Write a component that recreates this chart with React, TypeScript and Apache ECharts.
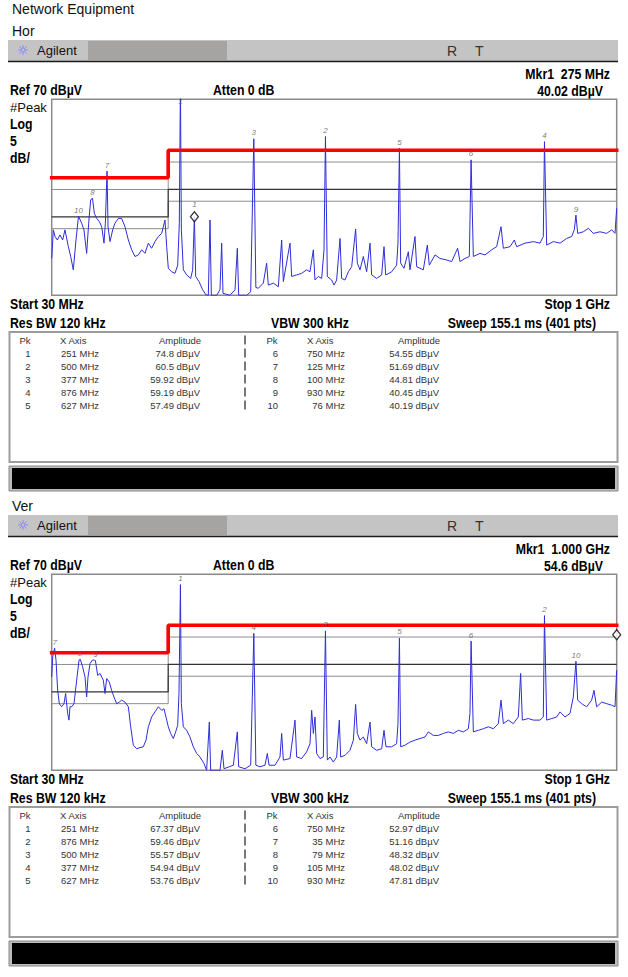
import React, { useEffect, useRef } from "react";
import * as echarts from "echarts";

// ---------- data ----------
const startMHz = 30;
const stopMHz = 1000;
const refLevel = 70;
const dbPerDiv = 5;
const divisions = 10;

// limit line (red) and display lines derived from it
const limitFreqs = [30, 230, 230, 1000];
const limitLevels = [50, 50, 57, 57];
const blackOffset = -10;
const grayOffsets = [-3, -13];

// Horizontal polarisation trace (MHz / dBuV)
const horFreq = [30, 32.8, 35.7, 39.7, 44.2, 48.8, 52.8, 58.6, 62.6, 67.1, 71.7, 76, 81.4, 85.4, 90, 93.5, 96.9, 100, 103.2, 107.2, 111.8, 115.8, 119.8, 122.1, 125, 126.7, 130.1, 134.7, 138.7, 144.4, 150.1, 155.8, 161.6, 167.3, 173, 178.7, 184.5, 190.2, 195.9, 201.6, 207.3, 213.1, 218.8, 224.5, 227.4, 230.2, 235.9, 241.7, 246.3, 249.1, 251, 252.6, 256, 261.7, 268.6, 272, 275, 277.2, 282.9, 289.2, 294.9, 298.9, 301.8, 304.1, 313.2, 318.9, 321.8, 324.1, 336.1, 344.7, 348.7, 351, 364.7, 371.6, 377, 380.5, 384.8, 393.3, 399, 401.9, 410.5, 419.1, 424.8, 427.7, 439.1, 442, 450.6, 459.1, 467.7, 473.4, 479.2, 482, 487.7, 493.5, 497.5, 500, 503.2, 510.6, 514.7, 519.2, 525, 527.8, 533.5, 539.3, 545, 551.8, 554.7, 559.3, 565, 570.7, 576.5, 579.3, 587.9, 596.5, 600.5, 603.4, 613.7, 622.2, 624.5, 627, 629.1, 634.8, 642.3, 645.1, 653.7, 656.6, 668, 674.9, 678.3, 688.1, 696.6, 708.1, 716.7, 726.9, 731, 739.6, 747, 750, 753.9, 765.3, 773.9, 785.3, 793.9, 801.4, 805.4, 816.8, 824.2, 828.3, 842.6, 856.9, 868.3, 874, 876, 879.8, 891.2, 902.7, 914.1, 922.7, 927.2, 930, 933, 942.7, 951.3, 959.9, 971.3, 982.8, 991.4, 997.1, 1000];
const horAmp = [29.4, 36.7, 35.0, 34.1, 35.4, 34.1, 36.7, 32.4, 29.9, 26.5, 34.1, 40.19, 38.4, 36.7, 30.7, 38.4, 44.3, 44.81, 40.9, 39.6, 38.8, 37.5, 33.3, 38.4, 51.69, 37.5, 33.7, 36.7, 38.4, 39.6, 39.6, 37.5, 34.1, 31.6, 29.9, 30.3, 31.6, 30.7, 33.3, 32.0, 33.7, 35.0, 35.8, 39.2, 32.4, 26.9, 26.0, 25.6, 27.7, 38.4, 74.8, 36.7, 26.5, 25.2, 24.3, 26.5, 40.02, 24.8, 23.5, 21.4, 20.1, 20.0, 39.2, 20.0, 20.0, 21.4, 33.3, 20.5, 20.0, 21.4, 32.0, 20.0, 20.0, 20.9, 59.92, 22.0, 21.8, 23.1, 28.2, 22.6, 23.1, 22.2, 34.1, 23.5, 33.3, 24.8, 25.2, 25.6, 26.5, 26.0, 31.6, 23.9, 24.8, 24.3, 31.6, 60.5, 24.8, 23.9, 22.6, 23.9, 34.5, 24.3, 23.9, 26.0, 27.3, 36.9, 28.2, 26.5, 29.9, 26.0, 33.3, 25.2, 24.3, 25.2, 32.4, 25.2, 26.0, 27.7, 33.3, 57.49, 28.2, 26.9, 31.1, 26.5, 35.0, 27.3, 26.5, 32.8, 27.7, 30.3, 29.4, 29.0, 28.6, 32.0, 28.6, 29.4, 29.9, 54.55, 29.9, 30.7, 30.3, 31.6, 32.4, 37.5, 32.0, 32.4, 34.1, 32.4, 33.3, 33.7, 33.3, 35.0, 59.19, 32.8, 33.7, 33.3, 34.5, 35.0, 36.7, 40.45, 35.8, 36.2, 37.1, 35.8, 36.2, 35.8, 36.7, 35.8, 42.2];

// Vertical polarisation trace
const verFreq = [30, 31.7, 35, 37.4, 40.2, 43.1, 47.1, 51.1, 53.9, 57.4, 59.7, 61.4, 64.3, 68.3, 72.9, 76.9, 79, 83.1, 87.2, 90, 92.3, 95.8, 99.8, 103.2, 105, 108.9, 112.9, 118.6, 121.5, 124.4, 128.9, 132.9, 136.9, 141.5, 146.1, 150.1, 155.8, 161.6, 165.6, 170.1, 175.9, 181.6, 187.3, 191.9, 195.9, 201.6, 207.3, 213.1, 218.8, 222.8, 226.2, 230.2, 234.2, 238.8, 242.8, 246.3, 248.5, 251, 252.6, 256, 261.7, 267.4, 273.1, 278.9, 284.6, 291.5, 296, 300.6, 302.9, 318.9, 322.9, 325.8, 341.8, 348.7, 351, 361.9, 371.6, 377, 380.5, 387.6, 396.2, 400.2, 403.1, 413.4, 421.9, 424.8, 427.7, 439.1, 447.7, 450.6, 459.1, 467.7, 473.5, 476.3, 479.2, 482, 484.9, 490.6, 496.3, 500, 503.2, 507.8, 513.5, 519.2, 523.8, 526.1, 533.5, 542.1, 547.9, 551.8, 554.7, 559.3, 565, 570.7, 576.5, 579.3, 587.9, 596.5, 600.5, 603.9, 613.7, 622.2, 624.5, 627, 629.1, 636.5, 645.1, 653.7, 662.3, 670.9, 676.6, 685.2, 693.8, 702.4, 711, 719.5, 728.1, 736.7, 745.3, 748.1, 750, 753.9, 762.4, 771, 779.6, 788.2, 796.8, 801.4, 805.4, 813.9, 822.5, 831.1, 835.1, 838, 848.3, 856.9, 868.3, 874, 876, 879.8, 888.3, 896.9, 902.7, 911.2, 919.8, 925.5, 930, 933, 939.8, 948.4, 957, 961, 965.6, 974.2, 982.8, 991.4, 997.1, 1000];
const verAmp = [43.8, 48.9, 51.16, 48.1, 40.4, 37.0, 36.2, 37.0, 39.6, 34.5, 32.8, 36.2, 36.2, 37.0, 43.0, 48.1, 48.32, 46.4, 43.8, 38.7, 43.8, 47.2, 48.1, 48.1, 48.02, 44.2, 44.7, 43.0, 39.6, 43.4, 42.5, 40.4, 38.7, 37.0, 37.4, 37.9, 37.4, 36.2, 31.1, 26.4, 25.5, 25.8, 26.0, 27.7, 31.1, 33.6, 34.9, 36.2, 35.3, 35.7, 33.6, 31.1, 29.4, 28.1, 29.8, 31.5, 39.6, 67.37, 37.0, 31.1, 30.2, 28.5, 26.0, 24.3, 23.4, 21.7, 20.0, 32.3, 20.0, 20.0, 25.1, 20.4, 21.3, 29.8, 20.9, 20.4, 21.3, 54.94, 21.3, 20.9, 21.3, 24.3, 21.3, 21.3, 23.4, 29.4, 22.6, 23.0, 32.8, 23.4, 23.0, 24.7, 26.8, 35.3, 29.4, 33.6, 24.3, 23.0, 23.4, 55.57, 22.6, 23.4, 22.1, 23.4, 32.8, 23.4, 23.8, 25.1, 27.7, 36.8, 29.4, 27.7, 28.5, 26.8, 32.3, 26.0, 25.1, 25.5, 30.2, 26.0, 26.0, 26.8, 31.9, 53.76, 26.0, 26.4, 27.2, 27.7, 28.1, 28.5, 29.8, 28.9, 28.9, 29.4, 29.8, 29.4, 30.2, 29.8, 30.6, 34.5, 52.97, 29.8, 30.2, 30.6, 31.1, 30.6, 31.9, 37.9, 31.9, 32.8, 31.9, 33.6, 44.7, 32.8, 33.2, 32.8, 32.8, 33.6, 59.46, 32.8, 33.2, 33.6, 34.9, 33.6, 34.5, 38.7, 47.81, 37.9, 37.0, 36.2, 37.9, 40.4, 36.2, 37.4, 37.0, 36.6, 36.2, 45.5];

// peak tables
const horPkFreq = [251, 500, 377, 876, 627, 750, 125, 100, 930, 76];
const horPkAmp = [74.8, 60.5, 59.92, 59.19, 57.49, 54.55, 51.69, 44.81, 40.45, 40.19];
const verPkFreq = [251, 876, 500, 377, 627, 750, 35, 79, 105, 930];
const verPkAmp = [67.37, 59.46, 55.57, 54.94, 53.76, 52.97, 51.16, 48.32, 48.02, 47.81];

// marker 1
const horMkr = [275, 40.02];
const verMkr = [1000, 54.6];

const pageTitle = "Network Equipment";
const sectionLabels = ["Hor", "Ver"];

// ---------- styling ----------
const SANS = "'Liberation Sans', Arial, Helvetica, sans-serif";
const GRID_COLOR = "#a4a4a4";
const SECTION_DY = 475;
const PLOT = { left: 51.7, top: 99.3, width: 565, height: 196 };

function T(x: number, y: number, text: string, o: any = {}) {
  return {
    type: "text",
    x,
    y,
    scaleX: o.scaleX ?? 1,
    silent: true,
    style: {
      text,
      fill: o.fill ?? "#000",
      fontSize: o.size ?? 13,
      fontFamily: o.family ?? SANS,
      fontWeight: o.weight ?? "normal",
      fontStyle: o.fontStyle ?? "normal",
      align: o.align ?? "left",
      verticalAlign: "middle",
    },
  };
}

// condensed bold (Arial Narrow look) via horizontal scaling
const B = (x: number, y: number, text: string, align = "left") =>
  T(x, y, text, { size: 15, weight: "bold", align, scaleX: 0.82 });

function mkrFreqText(f: number) {
  return f >= 1000 ? `${(f / 1000).toFixed(3)} GHz` : `${f} MHz`;
}

function bar(x: number, y: number) {
  return { type: "rect", silent: true, shape: { x: x - 0.8, y: y - 4.5, width: 1.6, height: 9 }, style: { fill: "#555" } };
}

function sectionGraphics(i: number, pkFreq: number[], pkAmp: number[], mkr: number[]) {
  const dy = i * SECTION_DY;
  const g: any[] = [];
  g.push(T(12, 31 + dy, sectionLabels[i], { size: 14, fill: "#111" }));
  // Agilent title bar
  g.push({ type: "rect", silent: true, shape: { x: 8, y: 40 + dy, width: 610, height: 21 }, style: { fill: "#c4c4c4" } });
  g.push({ type: "rect", silent: true, shape: { x: 88, y: 41 + dy, width: 139, height: 19 }, style: { fill: "#a6a3a3" } });
  g.push({ type: "line", silent: true, shape: { x1: 8, y1: 61.5 + dy, x2: 618, y2: 61.5 + dy }, style: { stroke: "#1a1a1a", lineWidth: 1.5 } });
  // star icon
  const cx = 23, cy = 50 + dy;
  for (let k = 0; k < 4; k++) {
    const a = (k * Math.PI) / 4;
    g.push({
      type: "line", silent: true,
      shape: { x1: cx - 5 * Math.cos(a), y1: cy - 5 * Math.sin(a), x2: cx + 5 * Math.cos(a), y2: cy + 5 * Math.sin(a) },
      style: { stroke: "#8c8cf0", lineWidth: 1 },
    });
  }
  g.push({ type: "circle", silent: true, shape: { cx, cy, r: 2 }, style: { fill: "#c4c4c4", stroke: "#8c8cf0", lineWidth: 1 } });
  g.push(T(37, 50 + dy, "Agilent", { size: 13, fill: "#111" }));
  g.push(T(447, 51 + dy, "R", { size: 14, fill: "#333" }));
  g.push(T(475, 51 + dy, "T", { size: 14, fill: "#333" }));

  // header texts
  g.push(B(610, 74 + dy, `Mkr1  ${mkrFreqText(mkr[0])}`, "right"));
  g.push(B(10, 90 + dy, `Ref ${refLevel} dBµV`));
  g.push(B(213, 90 + dy, "Atten 0 dB"));
  g.push(B(603, 91 + dy, `${mkr[1]} dBµV`, "right"));
  g.push(T(10, 107 + dy, "#Peak", { size: 13, fill: "#111" }));
  g.push(B(10, 124 + dy, "Log"));
  g.push(B(10, 141 + dy, `${dbPerDiv}`));
  g.push(B(10, 158 + dy, "dB/"));

  g.push(B(10, 304 + dy, `Start ${startMHz} MHz`));
  g.push(B(610, 304 + dy, `Stop ${stopMHz / 1000} GHz`, "right"));
  g.push(B(10, 323 + dy, "Res BW 120 kHz"));
  g.push(B(271, 323 + dy, "VBW 300 kHz"));
  g.push(B(596, 323 + dy, "Sweep 155.1 ms (401 pts)", "right"));

  // table
  g.push({ type: "rect", silent: true, shape: { x: 9.5, y: 332 + dy, width: 608, height: 130 }, style: { fill: "#fff", stroke: "#9c9c9c", lineWidth: 2 } });
  const tf = { size: 9.5, fill: "#333" };
  const hy = 340 + dy;
  g.push(T(25, hy, "Pk", { ...tf, align: "center" }));
  g.push(T(60, hy, "X Axis", tf));
  g.push(T(180, hy, "Amplitude", { ...tf, align: "center" }));
  g.push(bar(245, hy));
  g.push(T(272, hy, "Pk", { ...tf, align: "center" }));
  g.push(T(307, hy, "X Axis", tf));
  g.push(T(419, hy, "Amplitude", { ...tf, align: "center" }));
  for (let r = 0; r < 5; r++) {
    const y = 353 + r * 13 + dy;
    g.push(T(28, y, `${r + 1}`, { ...tf, align: "center" }));
    g.push(T(99, y, `${pkFreq[r]} MHz`, { ...tf, align: "right" }));
    g.push(T(200, y, `${pkAmp[r]} dBµV`, { ...tf, align: "right" }));
    g.push(bar(245, y));
    g.push(T(278, y, `${r + 6}`, { ...tf, align: "right" }));
    g.push(T(345, y, `${pkFreq[r + 5]} MHz`, { ...tf, align: "right" }));
    g.push(T(439, y, `${pkAmp[r + 5]} dBµV`, { ...tf, align: "right" }));
  }
  // black status bar
  g.push({ type: "rect", silent: true, shape: { x: 9, y: 466 + dy, width: 609, height: 25 }, style: { fill: "#bcbcbc", stroke: "#8a8a8a", lineWidth: 1 } });
  g.push({ type: "rect", silent: true, shape: { x: 12, y: 468 + dy, width: 603, height: 21 }, style: { fill: "#000" } });
  return g;
}

function pairs(xs: number[], ys: number[]) {
  return xs.map((x, k) => [x, ys[k]]);
}

function buildOption() {
  const grids: any[] = [];
  const xAxes: any[] = [];
  const yAxes: any[] = [];
  const series: any[] = [];
  const traces = [
    { f: horFreq, a: horAmp, pf: horPkFreq, pa: horPkAmp, mkr: horMkr, mkrLabel: true },
    { f: verFreq, a: verAmp, pf: verPkFreq, pa: verPkAmp, mkr: verMkr, mkrLabel: false },
  ];
  traces.forEach((t, i) => {
    grids.push({
      left: PLOT.left,
      top: PLOT.top + i * SECTION_DY,
      width: PLOT.width,
      height: PLOT.height,
      show: true,
      backgroundColor: "#fff",
      borderColor: "#8a8a8a",
      borderWidth: 1.5,
      z: 1,
    });
    xAxes.push({ type: "value", gridIndex: i, min: startMHz, max: stopMHz, show: false });
    xAxes.push({
      type: "value", gridIndex: i, min: 0, max: divisions, interval: 1,
      axisLine: { show: false }, axisTick: { show: false }, axisLabel: { show: false },
      splitLine: { show: true, lineStyle: { color: GRID_COLOR, width: 1 } },
    });
    yAxes.push({
      type: "value", gridIndex: i, min: refLevel - dbPerDiv * divisions, max: refLevel, interval: dbPerDiv,
      axisLine: { show: false }, axisTick: { show: false }, axisLabel: { show: false },
      splitLine: { show: true, lineStyle: { color: GRID_COLOR, width: 1 } },
    });
    const xi = i * 2;
    grayOffsets.forEach((off) => {
      series.push({
        type: "line", xAxisIndex: xi, yAxisIndex: i, silent: true, symbol: "none",
        data: pairs(limitFreqs, limitLevels.map((v) => v + off)),
        lineStyle: { color: "#8e8e8e", width: 1 }, z: 2,
      });
    });
    series.push({
      type: "line", xAxisIndex: xi, yAxisIndex: i, silent: true, symbol: "none",
      data: pairs(limitFreqs, limitLevels.map((v) => v + blackOffset)),
      lineStyle: { color: "#333", width: 1.3 }, z: 3,
    });
    series.push({
      type: "line", xAxisIndex: xi, yAxisIndex: i, silent: true, symbol: "none",
      data: pairs(t.f, t.a),
      lineStyle: { color: "#2e2ed8", width: 1 }, z: 4,
    });
    series.push({
      type: "line", xAxisIndex: xi, yAxisIndex: i, silent: true, symbol: "none", clip: false,
      data: pairs(limitFreqs, limitLevels),
      lineStyle: { color: "#ff0000", width: 3.6, cap: "square" }, z: 5,
    });
    // peak number labels
    series.push({
      type: "scatter", xAxisIndex: xi, yAxisIndex: i, silent: true, symbolSize: 0,
      data: t.pf.map((f, k) => {
        const clipped = t.pa[k] >= refLevel;
        return {
          value: [f, Math.min(t.pa[k], refLevel)],
          label: clipped ? { position: "inside", offset: [0, 2] } : undefined,
        };
      }),
      label: {
        show: true, position: "top", distance: 2,
        formatter: (p: any) => `${p.dataIndex + 1}`,
        fontSize: 8, fontStyle: "italic", color: "#555", fontFamily: SANS,
      },
      z: 6,
    });
    // marker 1 diamond
    series.push({
      type: "scatter", xAxisIndex: xi, yAxisIndex: i, silent: true,
      symbol: "diamond", symbolSize: [8, 10],
      data: [t.mkr],
      itemStyle: { color: "#fff", borderColor: "#000", borderWidth: 1.3 },
      label: {
        show: t.mkrLabel, position: "top", distance: 3, formatter: "1",
        fontSize: 8, fontStyle: "italic", color: "#555", fontFamily: SANS,
      },
      z: 7,
    });
  });

  const graphic: any[] = [T(12, 9, pageTitle, { size: 14, fill: "#111" })];
  graphic.push(...sectionGraphics(0, horPkFreq, horPkAmp, horMkr));
  graphic.push(...sectionGraphics(1, verPkFreq, verPkAmp, verMkr));

  return {
    animation: false,
    backgroundColor: "#fff",
    grid: grids,
    xAxis: xAxes,
    yAxis: yAxes,
    series,
    graphic: { elements: graphic },
  };
}

export default function App() {
  const ref = useRef<HTMLDivElement>(null);
  useEffect(() => {
    const chart = echarts.init(ref.current!, null, { renderer: "svg" });
    chart.setOption(buildOption() as any);
    return () => chart.dispose();
  }, []);
  return (
    <div
      ref={ref}
      style={{ position: "absolute", left: 0, top: 0, width: 628, height: 977, background: "#fff" }}
    />
  );
}
